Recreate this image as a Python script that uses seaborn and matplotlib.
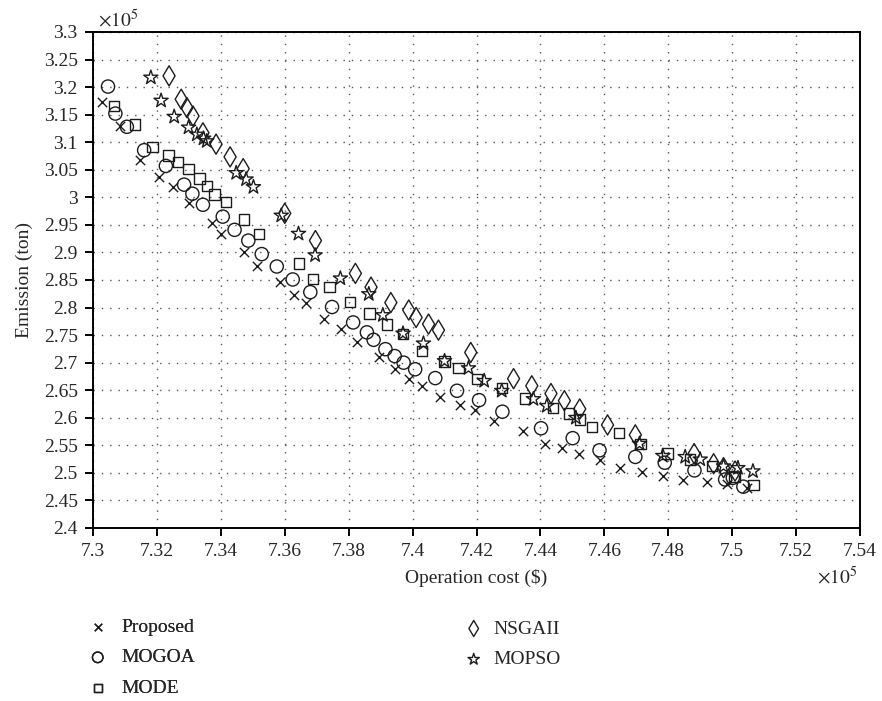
import pandas as pd
import matplotlib
matplotlib.use('Agg')
import matplotlib.pyplot as plt
import seaborn as sns
from matplotlib.ticker import MultipleLocator, FuncFormatter

# operation cost and emission, both in units of 1e5 (as on the axes)
prop_cost = [7.3028, 7.3085, 7.3148, 7.3208, 7.3250, 7.3300, 7.3372, 7.3400, 7.3471,
             7.3512, 7.3585, 7.3630, 7.3665, 7.3724, 7.3776, 7.3826, 7.3894, 7.3946,
             7.3988, 7.4031, 7.4086, 7.4147, 7.4194, 7.4256, 7.4344, 7.4413, 7.4467,
             7.4520, 7.4585, 7.4648, 7.4718, 7.4785, 7.4846, 7.4921, 7.4985, 7.5046]
prop_emis = [3.1736, 3.1290, 3.0685, 3.0370, 3.0190, 2.9900, 2.9530, 2.9340, 2.9000,
             2.8760, 2.8470, 2.8230, 2.8090, 2.7790, 2.7610, 2.7370, 2.7110, 2.6880,
             2.6700, 2.6580, 2.6370, 2.6230, 2.6140, 2.5940, 2.5760, 2.5530, 2.5460,
             2.5350, 2.5230, 2.5090, 2.5020, 2.4940, 2.4870, 2.4840, 2.4800, 2.4730]

mogoa_cost = [7.3047, 7.3070, 7.3106, 7.3160, 7.3228, 7.3285, 7.3311, 7.3344, 7.3406,
              7.3443, 7.3486, 7.3528, 7.3575, 7.3625, 7.3680, 7.3748, 7.3814, 7.3857,
              7.3878, 7.3915, 7.3944, 7.3972, 7.4008, 7.4071, 7.4139, 7.4208, 7.4281,
              7.4402, 7.4501, 7.4585, 7.4697, 7.4789, 7.4882, 7.4978, 7.5002, 7.5035]
mogoa_emis = [3.2010, 3.1520, 3.1280, 3.0855, 3.0570, 3.0230, 3.0066, 2.9865, 2.9650,
              2.9410, 2.9215, 2.8970, 2.8745, 2.8510, 2.8280, 2.8010, 2.7730, 2.7550,
              2.7415, 2.7245, 2.7120, 2.7000, 2.6880, 2.6720, 2.6490, 2.6320, 2.6110,
              2.5810, 2.5630, 2.5410, 2.5290, 2.5185, 2.5045, 2.4880, 2.4910, 2.4750]

mode_cost = [7.3065, 7.3132, 7.3186, 7.3236, 7.3266, 7.3299, 7.3333, 7.3356, 7.3380,
             7.3417, 7.3473, 7.3519, 7.3644, 7.3688, 7.3740, 7.3805, 7.3865, 7.3920,
             7.3969, 7.4029, 7.4100, 7.4144, 7.4201, 7.4279, 7.4352, 7.4439, 7.4490,
             7.4523, 7.4561, 7.4645, 7.4713, 7.4798, 7.4869, 7.4936, 7.5007, 7.5067]
mode_emis = [3.1657, 3.1320, 3.0916, 3.0758, 3.0643, 3.0520, 3.0340, 3.0205, 3.0050,
             2.9910, 2.9600, 2.9330, 2.8800, 2.8520, 2.8370, 2.8100, 2.7890, 2.7690,
             2.7520, 2.7215, 2.7020, 2.6900, 2.6700, 2.6540, 2.6350, 2.6180, 2.6080,
             2.5970, 2.5835, 2.5730, 2.5530, 2.5350, 2.5245, 2.5120, 2.4930, 2.4780]

nsga_cost = [7.3238, 7.3276, 7.3294, 7.3313, 7.3344, 7.3385, 7.3429, 7.3470, 7.3600,
             7.3696, 7.3821, 7.3870, 7.3932, 7.3988, 7.4011, 7.4050, 7.4081, 7.4182,
             7.4316, 7.4373, 7.4433, 7.4475, 7.4523, 7.4610, 7.4697, 7.4881, 7.4942,
             7.4973, 7.5009]
nsga_emis = [3.2204, 3.1780, 3.1627, 3.1475, 3.1170, 3.0965, 3.0734, 3.0520, 2.9710,
             2.9215, 2.8620, 2.8370, 2.8090, 2.7955, 2.7820, 2.7700, 2.7590, 2.7185,
             2.6710, 2.6580, 2.6440, 2.6310, 2.6160, 2.5870, 2.5690, 2.5350, 2.5166,
             2.5094, 2.5033]

mopso_cost = [7.3181, 7.3213, 7.3254, 7.3299, 7.3325, 7.3346, 7.3356, 7.3448, 7.3479,
              7.3502, 7.3589, 7.3643, 7.3695, 7.3774, 7.3863, 7.3907, 7.3970, 7.4034,
              7.4100, 7.4175, 7.4224, 7.4279, 7.4378, 7.4420, 7.4511, 7.4710, 7.4783,
              7.4853, 7.4900, 7.4973, 7.5018, 7.5065]
mopso_emis = [3.2174, 3.1755, 3.1463, 3.1268, 3.1140, 3.1068, 3.1020, 3.0442, 3.0327,
              3.0187, 2.9670, 2.9340, 2.8950, 2.8530, 2.8245, 2.7864, 2.7530, 2.7350,
              2.7030, 2.6900, 2.6670, 2.6490, 2.6340, 2.6215, 2.6000, 2.5530, 2.5310,
              2.5290, 2.5245, 2.5120, 2.5090, 2.5030]

sns.set_style('ticks')
plt.rcParams['font.family'] = ['Liberation Serif', 'DejaVu Serif']
plt.rcParams['mathtext.fontset'] = 'stix'
plt.rcParams['axes.linewidth'] = 1.4

ink = '#1c1c1c'

fig = plt.figure(figsize=(8.82, 7.01), dpi=100)
ax = fig.add_axes([93/882, 1 - 528/701, (860 - 93)/882, (528 - 32)/701])

series = [('Proposed', prop_cost, prop_emis, 'x', 45),
          ('MOGOA', mogoa_cost, mogoa_emis, 'o', 90),
          ('MODE', mode_cost, mode_emis, 's', 55),
          ('NSGAII', nsga_cost, nsga_emis, 'd', 105),
          ('MOPSO', mopso_cost, mopso_emis, '*', 115)]

for name, xs, ys, mk, sz in series:
    df = pd.DataFrame({'cost': xs, 'emission': ys})
    if mk == 'x':
        sns.scatterplot(data=df, x='cost', y='emission', marker=mk, s=sz,
                        color=ink, linewidth=1.0, label=name, ax=ax, zorder=3)
    else:
        sns.scatterplot(data=df, x='cost', y='emission', marker=mk, s=sz,
                        facecolor='none', edgecolor=ink, linewidth=1.0,
                        label=name, ax=ax, zorder=3)

ax.set_xlim(7.3, 7.54)
ax.set_ylim(2.4, 3.3)
ax.xaxis.set_major_locator(MultipleLocator(0.02))
ax.yaxis.set_major_locator(MultipleLocator(0.05))
fmt = FuncFormatter(lambda v, p: f'{v:g}')
ax.xaxis.set_major_formatter(fmt)
ax.yaxis.set_major_formatter(fmt)
ax.tick_params(direction='out', length=6, width=1.4, labelsize=14, pad=5, color='black')
for s in ax.spines.values():
    s.set_visible(True)
    s.set_color('black')
ax.tick_params(top=False, right=False)
ax.grid(True, linestyle=(0, (1, 5)), linewidth=1.0, color='#555555')
ax.set_axisbelow(True)

ax.set_xlabel('Operation cost ($)', fontsize=14, labelpad=6)
ax.set_ylabel('Emission (ton)', fontsize=14, labelpad=8)
fig.text(857/882, 1 - 577/701, r'$\times10^{5}$', fontsize=14, ha='right', va='center')
fig.text(98/882, 1 - 20/701, r'$\times10^{5}$', fontsize=14, ha='left', va='center')

handles, labels = ax.get_legend_handles_labels()
ax.get_legend().remove()
leg1 = fig.legend(handles[:3], labels[:3], loc='upper left',
                  bbox_to_anchor=(88/882, 1 - 618/701), frameon=False, fontsize=14,
                  handlelength=1.0, handletextpad=0.7, labelspacing=0.68,
                  borderpad=0, borderaxespad=0, markerscale=0.8)
leg2 = fig.legend(handles[3:], labels[3:], loc='upper left',
                  bbox_to_anchor=(464/882, 1 - 620/701), frameon=False, fontsize=14,
                  handlelength=1.0, handletextpad=0.5, labelspacing=0.68,
                  borderpad=0, borderaxespad=0, markerscale=0.8)
fig.add_artist(leg1)

fig.savefig('out.png', dpi=100)
